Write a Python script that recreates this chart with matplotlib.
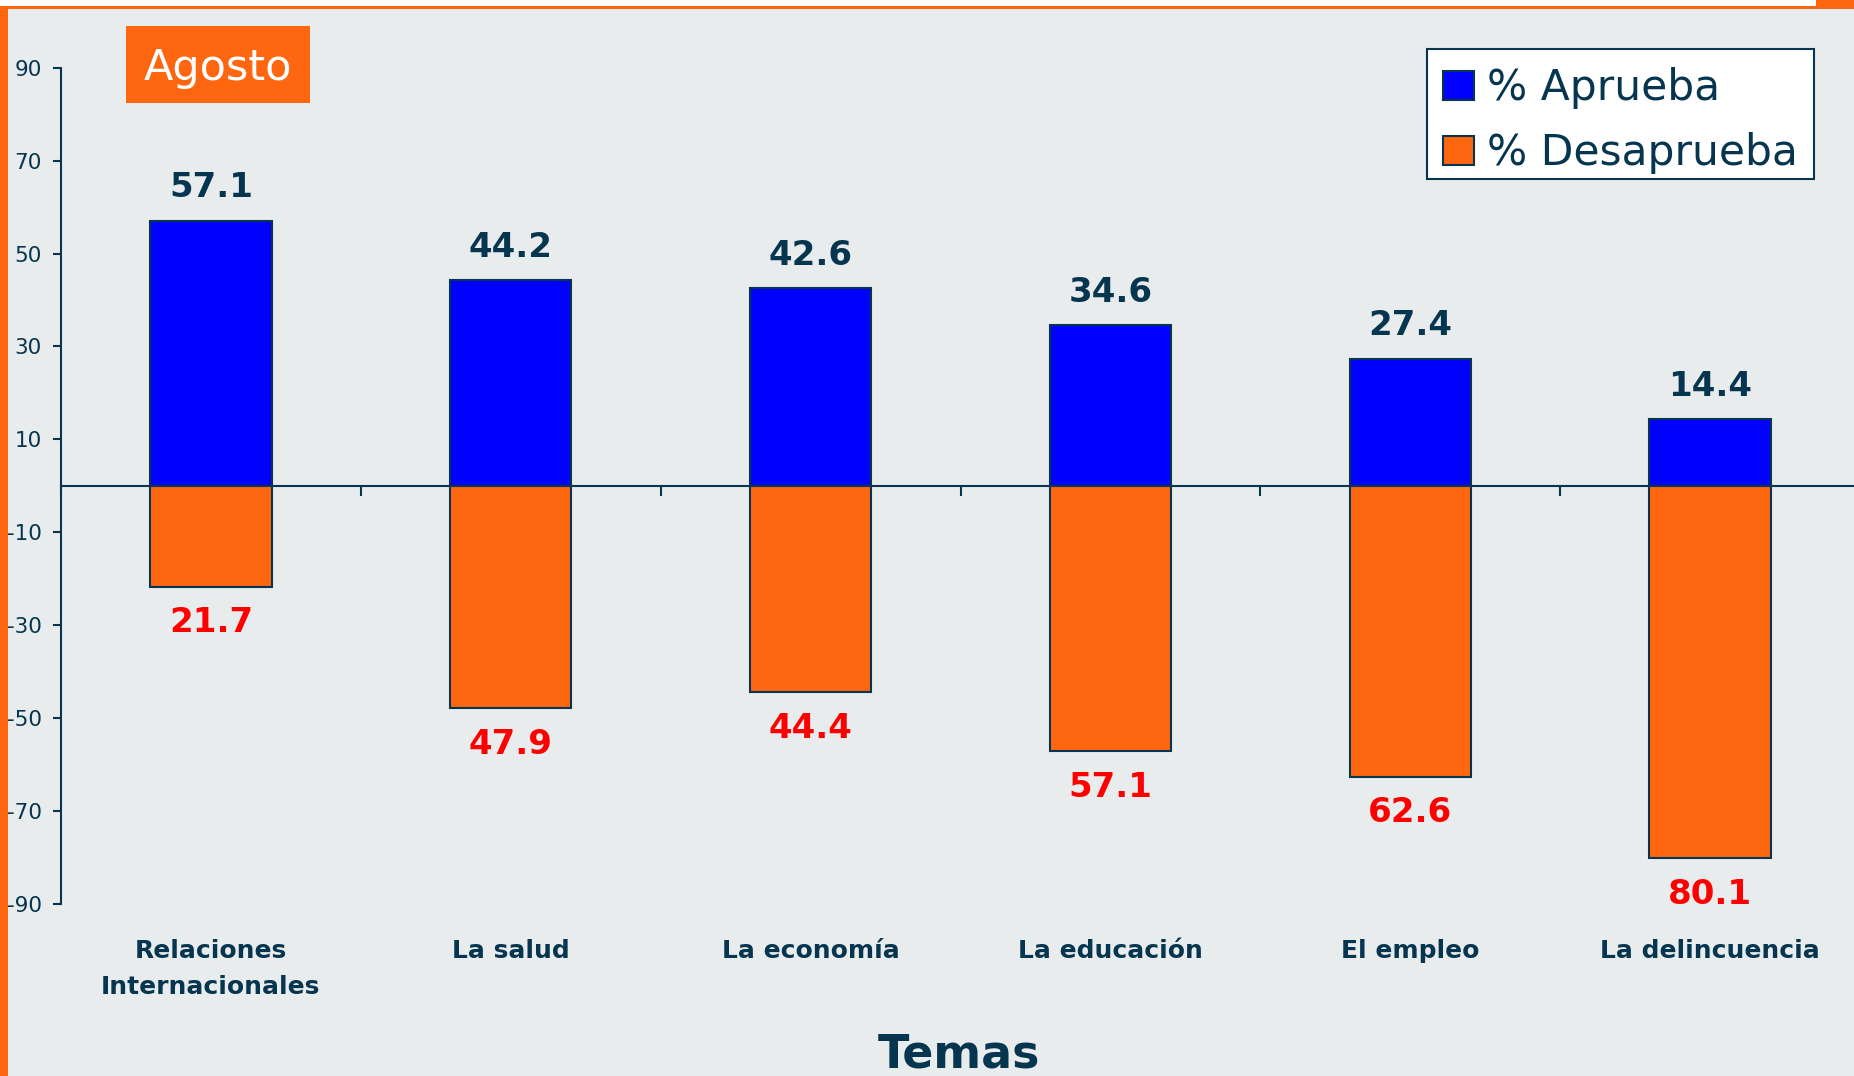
import matplotlib
matplotlib.use("Agg")
import matplotlib.pyplot as plt
from matplotlib.patches import Rectangle
import numpy as np

# data
temas = ['Relaciones\nInternacionales', 'La salud', 'La economía',
         'La educación', 'El empleo', 'La delincuencia']
aprueba = [57.1, 44.2, 42.6, 34.6, 27.4, 14.4]
desaprueba = [21.7, 47.9, 44.4, 57.1, 62.6, 80.1]
yticks = [-90, -70, -50, -30, -10, 10, 30, 50, 70, 90]

navy = '#063550'
orange = '#FF6610'
bg = '#E9ECED'

plt.rcParams['font.family'] = 'DejaVu Sans'
plt.rcParams['axes.unicode_minus'] = False

W, H = 1854, 1076
fig = plt.figure(figsize=(W / 100, H / 100), dpi=100, facecolor=bg)

# frame decorations (pixel coords -> figure fraction)
def px_rect(x0, y0, x1, y1, fc, ec='none', lw=0, z=0):
    fig.patches.append(Rectangle((x0 / W, 1 - y1 / H), (x1 - x0) / W, (y1 - y0) / H,
                                 transform=fig.transFigure, facecolor=fc,
                                 edgecolor=ec, linewidth=lw, zorder=z))

px_rect(0, 0, W, 6, 'white')
px_rect(0, 6, W, 8.5, orange)
px_rect(0, 6, 8, H, orange)
px_rect(1816, 0, W, 8.5, orange)

# axes: x from 61px to 1860px, y from 67.7px (90) to 904px (-90)
ax = fig.add_axes([61 / W, 1 - 904 / H, (1860 - 61) / W, (904 - 67.7) / H])
ax.set_facecolor('none')

x = np.arange(len(temas))
width = 0.405
b1 = ax.bar(x, aprueba, width, color='#0000FF', edgecolor=navy, linewidth=1.5,
            label='% Aprueba', zorder=3)
b2 = ax.bar(x, [-v for v in desaprueba], width, color=orange, edgecolor=navy,
            linewidth=1.5, label='% Desaprueba', zorder=3)

for xi, v in zip(x, aprueba):
    ax.annotate(f'{v:.1f}', (xi, v), xytext=(0, 23.5), textcoords='offset points',
                ha='center', va='center', fontsize=24.5, fontweight='bold', color=navy)
for xi, v in zip(x, desaprueba):
    ax.annotate(f'{v:.1f}', (xi, -v), xytext=(0, -26), textcoords='offset points',
                ha='center', va='center', fontsize=24.5, fontweight='bold', color='#FF0000')

ax.set_xlim(-0.5, len(temas) - 0.5)
ax.set_ylim(-90, 90)
ax.set_yticks(yticks)
ax.tick_params(axis='y', direction='out', length=5.8, width=1.5, color=navy,
               labelcolor=navy, labelsize=15.5, pad=8)

for s in ['top', 'right']:
    ax.spines[s].set_visible(False)
ax.spines['left'].set_color(navy)
ax.spines['left'].set_linewidth(1.5)
ax.spines['bottom'].set_position(('data', 0))
ax.spines['bottom'].set_color(navy)
ax.spines['bottom'].set_linewidth(1.5)

# category boundary ticks on the zero line
ax.set_xticks(np.arange(-0.5, len(temas), 1.0))
ax.set_xticklabels([])
ax.tick_params(axis='x', direction='out', length=7, width=1.5, color=navy)

for xi, t in zip(x, temas):
    ax.text(xi, -0.042, t, transform=ax.get_xaxis_transform(), ha='center', va='top',
            fontsize=18, fontweight='bold', color=navy, linespacing=1.6)

fig.text(959 / W, 1 - 1055 / H, 'Temas', ha='center', va='center', fontsize=33,
         fontweight='bold', color=navy)

# "Agosto" box
px_rect(126, 26, 310, 103, orange)
fig.text(218 / W, 1 - 68 / H, 'Agosto', ha='center', va='center', fontsize=31,
         color='white')

# legend: box drawn separately (behind the axes), entries placed inside
px_rect(1427, 49, 1814, 179, 'white', navy, 1.5, z=-1)
leg = ax.legend(loc='upper left', bbox_to_anchor=(1443 / W, 1 - 67 / H),
                bbox_transform=fig.transFigure, fontsize=30.5, frameon=False,
                handlelength=0.72, handleheight=0.68, handletextpad=0.33,
                labelspacing=0.55, borderpad=0, borderaxespad=0)
for t in leg.get_texts():
    t.set_color(navy)

fig.savefig('out.png', dpi=100, facecolor=fig.get_facecolor())
